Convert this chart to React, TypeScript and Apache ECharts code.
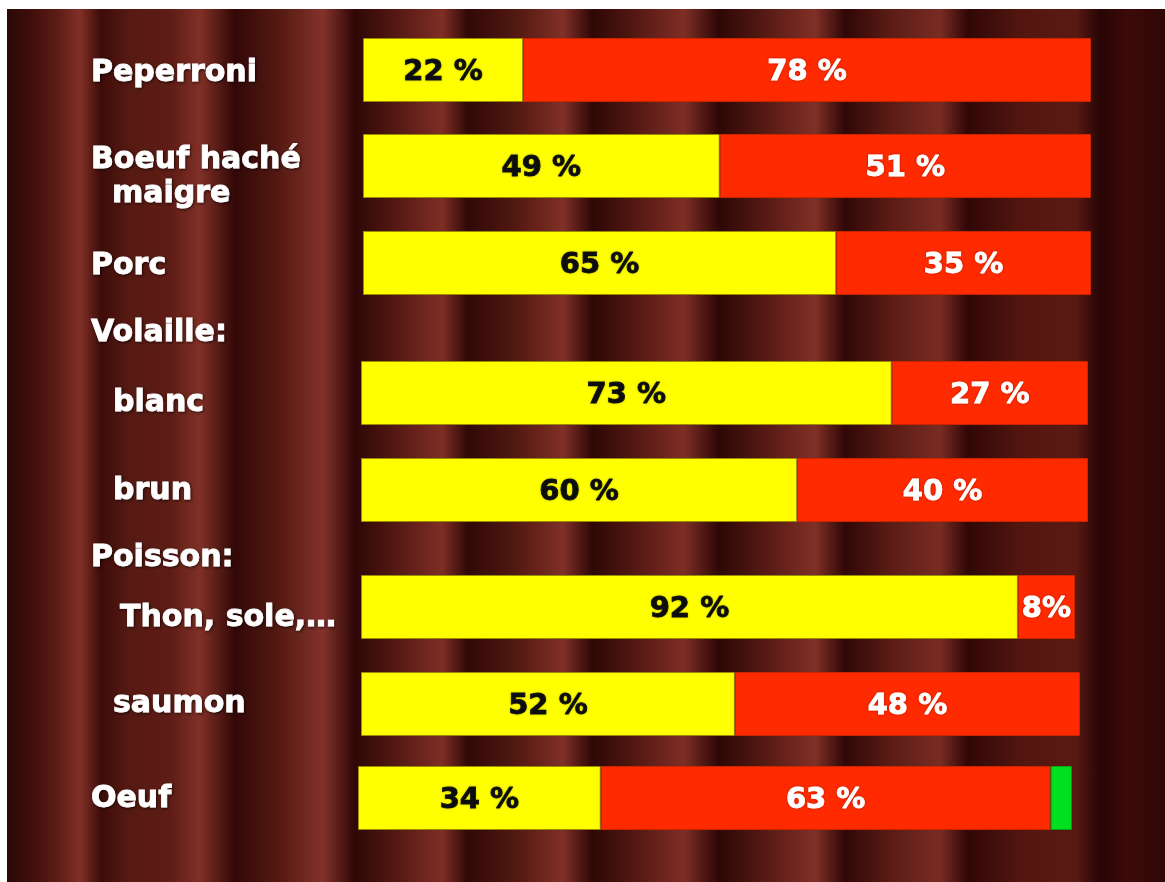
import React, { useEffect, useRef } from "react";
import * as echarts from "echarts";

// ---- data ----
const categories = [
  "Peperroni",
  "Boeuf haché\n  maigre",
  "Porc",
  "blanc",
  "brun",
  "Thon, sole,…",
  "saumon",
  "Oeuf",
];
const groupHeaders = ["Volaille:", "Poisson:"];
const yellowValues = [22, 49, 65, 73, 60, 92, 52, 34];
const redValues = [78, 51, 35, 27, 40, 8, 48, 63];
const greenValues = [0, 0, 0, 0, 0, 0, 0, 3];

// ---- layout (page px) ----
const OX = 7;
const OY = 9;
const W = 1158;
const H = 873;
const rowLayout = [
  { top: 38, left: 363, width: 728, labelX: 91, labelY: 70 },
  { top: 134, left: 363, width: 728, labelX: 91, labelY: 174 },
  { top: 231, left: 363, width: 728, labelX: 91, labelY: 263 },
  { top: 361, left: 361, width: 727, labelX: 113, labelY: 400 },
  { top: 458, left: 361, width: 727, labelX: 113, labelY: 488 },
  { top: 575, left: 361, width: 714, labelX: 120, labelY: 615 },
  { top: 672, left: 361, width: 719, labelX: 113, labelY: 701 },
  { top: 766, left: 358, width: 714, labelX: 91, labelY: 796 },
];
const BAR_H = 64;
const headerPos = [
  { x: 91, y: 330 },
  { x: 91, y: 555 },
];

const FONT = "DejaVu Sans";

const curtainStops: [number, string][] = [
  [7, "#2a0807"], [30, "#3e0e0b"], [60, "#601e17"], [80, "#803026"], [101, "#3e0c09"],
  [130, "#561a12"], [170, "#5e1c15"], [200, "#803026"], [235, "#320807"], [280, "#561a12"],
  [323, "#82322a"], [355, "#2e0706"], [400, "#581a14"], [442, "#7e2e25"], [468, "#300807"],
  [520, "#561a13"], [563, "#803027"], [593, "#2e0706"], [640, "#581a14"], [684, "#7e2e25"],
  [719, "#2e0706"], [770, "#5a1c15"], [815, "#803027"], [845, "#300707"], [890, "#5a1c15"],
  [940, "#782c23"], [968, "#300707"], [1020, "#52160f"], [1075, "#5a1a14"], [1100, "#280505"],
  [1130, "#3c0b09"], [1165, "#2e0606"],
];

const whiteTextStyle = (text: string) => ({
  text,
  fill: "#ffffff",
  font: `bold 30px "${FONT}"`,
  lineHeight: 34,
  verticalAlign: "middle",
  align: "left",
  stroke: "#ffffff",
  lineWidth: 0.8,
  textShadowColor: "rgba(0,0,0,0.7)",
  textShadowBlur: 3,
  textShadowOffsetX: 1,
  textShadowOffsetY: 1,
});

export default function App() {
  const ref = useRef<HTMLDivElement>(null);
  useEffect(() => {
    if (!ref.current) return;
    const chart = echarts.init(ref.current, undefined, { renderer: "svg" });

    const bg = new echarts.graphic.LinearGradient(
      0, 0, 1, 0,
      curtainStops.map(([x, c]) => ({ offset: Math.min(1, Math.max(0, (x - OX) / W)), color: c }))
    );

    const grids: any[] = [];
    const xAxes: any[] = [];
    const yAxes: any[] = [];
    const series: any[] = [];
    const graphics: any[] = [];

    categories.forEach((cat, i) => {
      const r = rowLayout[i];
      grids.push({ left: r.left - OX, top: r.top - OY, width: r.width, height: BAR_H });
      xAxes.push({ type: "value", gridIndex: i, min: 0, max: 100, show: false });
      yAxes.push({
        type: "category",
        gridIndex: i,
        data: [cat],
        axisLine: { show: false },
        axisTick: { show: false },
        splitLine: { show: false },
        axisLabel: { show: false },
      });
      graphics.push({
        type: "text",
        x: r.labelX - OX,
        y: r.labelY - OY,
        z: 10,
        style: whiteTextStyle(cat),
      });
      const common = {
        type: "bar",
        xAxisIndex: i,
        yAxisIndex: i,
        stack: "s" + i,
        barWidth: "100%",
      };
      series.push({
        ...common,
        name: "yellow",
        data: [yellowValues[i]],
        itemStyle: { color: "#ffff00", borderColor: "#9a8c00", borderWidth: 1 },
        label: {
          show: true,
          position: "inside",
          formatter: (p: any) => `${p.value} %`,
          color: "#111111",
          fontFamily: FONT,
          fontWeight: "bold",
          fontSize: 29,
          textBorderColor: "#111111",
          textBorderWidth: 0.8,
          textShadowColor: "rgba(0,0,0,0.25)",
          textShadowBlur: 2,
        },
      });
      series.push({
        ...common,
        name: "red",
        data: [redValues[i]],
        itemStyle: { color: "#ff2a00", borderColor: "#c82400", borderWidth: 1 },
        label: {
          show: true,
          position: "inside",
          formatter: (p: any) => (p.value < 10 ? `${p.value}%` : `${p.value} %`),
          color: "#ffffff",
          fontFamily: FONT,
          fontWeight: "bold",
          fontSize: 29,
          textBorderColor: "#ffffff",
          textBorderWidth: 0.8,
          textShadowColor: "rgba(120,0,0,0.6)",
          textShadowBlur: 2,
        },
      });
      if (greenValues[i] > 0) {
        series.push({
          ...common,
          name: "green",
          data: [greenValues[i]],
          itemStyle: { color: "#00e020", borderColor: "#00a018", borderWidth: 1 },
          label: { show: false },
        });
      }
    });

    groupHeaders.forEach((t, k) => {
      graphics.push({
        type: "text",
        x: headerPos[k].x - OX,
        y: headerPos[k].y - OY,
        z: 10,
        style: whiteTextStyle(t),
      });
    });

    chart.setOption({
      animation: false,
      backgroundColor: bg,
      grid: grids,
      xAxis: xAxes,
      yAxis: yAxes,
      series,
      graphic: graphics,
    });
    return () => chart.dispose();
  }, []);
  return (
    <div
      ref={ref}
      style={{ position: "fixed", left: OX, top: OY, width: W, height: H }}
    />
  );
}
